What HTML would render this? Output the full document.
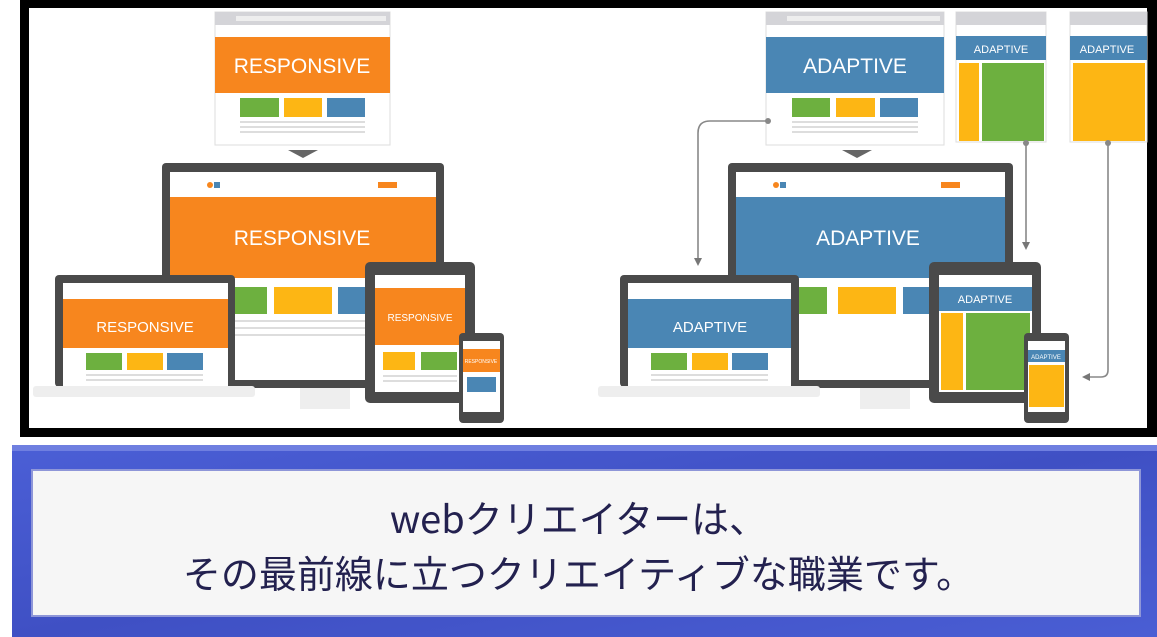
<!DOCTYPE html>
<html><head><meta charset="utf-8"><style>
html,body{margin:0;padding:0;background:#fff;}
body{width:1157px;height:637px;position:relative;overflow:hidden;}
.txt{position:absolute;left:0;width:1157px;text-align:center;color:#23214f;font-family:"Noto Sans CJK JP","Liberation Sans",sans-serif;font-size:38px;line-height:50px;}
</style></head><body>
<svg width="1157" height="637" style="position:absolute;left:0;top:0" font-family="Liberation Sans, DejaVu Sans, sans-serif">
<defs>
<linearGradient id="bl" x1="0" y1="0" x2="1" y2="1">
<stop offset="0" stop-color="#4b5fd6"/><stop offset="0.5" stop-color="#3f50c4"/><stop offset="1" stop-color="#4a5ed4"/></linearGradient>
<marker id="ah" markerWidth="8" markerHeight="8" refX="4" refY="4" orient="auto" markerUnits="userSpaceOnUse"><path d="M0,0 L8,4 L0,8 Z" fill="#777"/></marker>
</defs>
<rect x="20" y="0" width="1137" height="437" fill="#000"/>
<rect x="29" y="8" width="1118" height="420" fill="#fff"/>
<rect x="12" y="445" width="1145" height="192" fill="url(#bl)"/>
<rect x="12" y="445" width="1145" height="6" fill="#6f7fe0"/>
<rect x="32" y="470" width="1108" height="146" fill="#f6f6f6" stroke="#8e96d8" stroke-width="2"/>

<rect x="215" y="12" width="175" height="133" fill="#fff" stroke="#ddd"/>
<rect x="215" y="12" width="175" height="13" fill="#d4d4d8"/>
<rect x="236" y="16" width="150" height="5" fill="#eee"/>
<rect x="215" y="37" width="175" height="56" fill="#f7861e"/>
<text x="302" y="73" font-size="21" fill="#fff" text-anchor="middle">RESPONSIVE</text>
<rect x="240" y="98" width="39" height="19" fill="#6db03f"/><rect x="284" y="98" width="38" height="19" fill="#fdb614"/><rect x="327" y="98" width="38" height="19" fill="#4a86b4"/>
<g fill="#ddd"><rect x="240" y="121" width="125" height="2"/><rect x="240" y="126" width="125" height="2"/><rect x="240" y="131" width="125" height="2"/></g>
<path d="M288,150 L318,150 L303,158 Z" fill="#666"/>
<rect x="300" y="385" width="50" height="24" fill="#eee"/>
<rect x="162" y="163" width="282" height="225" rx="4" fill="#4a4a4a"/>
<rect x="170" y="172" width="266" height="208" fill="#fff"/>
<rect x="170" y="197" width="266" height="81" fill="#f7861e"/>
<text x="302" y="245" font-size="21" fill="#fff" text-anchor="middle">RESPONSIVE</text>
<circle cx="210" cy="185" r="3" fill="#f7861e"/><rect x="214" y="182" width="6" height="6" fill="#4a86b4"/>
<rect x="378" y="182" width="19" height="6" fill="#f7861e"/>
<rect x="213" y="287" width="54" height="27" fill="#6db03f"/><rect x="274" y="287" width="58" height="27" fill="#fdb614"/><rect x="338" y="287" width="40" height="27" fill="#4a86b4"/>
<g fill="#ddd"><rect x="213" y="320" width="165" height="2"/><rect x="213" y="327" width="165" height="2"/><rect x="213" y="334" width="165" height="2"/></g>
<rect x="55" y="275" width="180" height="112" rx="4" fill="#4a4a4a"/>
<rect x="63" y="283" width="165" height="104" fill="#fff"/>
<rect x="63" y="299" width="165" height="49" fill="#f7861e"/>
<text x="145" y="332" font-size="15" fill="#fff" text-anchor="middle">RESPONSIVE</text>
<rect x="86" y="353" width="36" height="17" fill="#6db03f"/><rect x="127" y="353" width="36" height="17" fill="#fdb614"/><rect x="167" y="353" width="36" height="17" fill="#4a86b4"/>
<g fill="#ddd"><rect x="86" y="374" width="117" height="2"/><rect x="86" y="379" width="117" height="2"/></g>
<rect x="33" y="386" width="222" height="11" rx="3" fill="#eee"/>
<rect x="365" y="262" width="110" height="141" rx="5" fill="#4a4a4a"/>
<rect x="375" y="275" width="90" height="117" fill="#fff"/>
<rect x="375" y="288" width="90" height="57" fill="#f7861e"/>
<text x="420" y="321" font-size="10" fill="#fff" text-anchor="middle">RESPONSIVE</text>
<rect x="383" y="352" width="32" height="18" fill="#fdb614"/><rect x="421" y="352" width="36" height="18" fill="#6db03f"/>
<g fill="#ddd"><rect x="383" y="375" width="74" height="2"/><rect x="383" y="380" width="74" height="2"/></g>
<rect x="459" y="333" width="45" height="90" rx="4" fill="#4a4a4a"/>
<rect x="463" y="341" width="37" height="71" fill="#fff"/>
<rect x="463" y="349" width="37" height="23" fill="#f7861e"/>
<text x="481" y="363" font-size="5" fill="#fff" text-anchor="middle">RESPONSIVE</text>
<rect x="467" y="377" width="29" height="15" fill="#4a86b4"/>

<rect x="766" y="12" width="178" height="133" fill="#fff" stroke="#ddd"/>
<rect x="766" y="12" width="178" height="13" fill="#d4d4d8"/>
<rect x="787" y="16" width="153" height="5" fill="#eee"/>
<rect x="766" y="37" width="178" height="56" fill="#4a86b4"/>
<text x="855" y="73" font-size="21" fill="#fff" text-anchor="middle">ADAPTIVE</text>
<rect x="792" y="98" width="38" height="19" fill="#6db03f"/><rect x="836" y="98" width="39" height="19" fill="#fdb614"/><rect x="880" y="98" width="38" height="19" fill="#4a86b4"/>
<g fill="#ddd"><rect x="792" y="121" width="126" height="2"/><rect x="792" y="126" width="126" height="2"/><rect x="792" y="131" width="126" height="2"/></g>
<path d="M842,150 L872,150 L857,158 Z" fill="#666"/>
<rect x="956" y="12" width="90" height="130" fill="#fff" stroke="#ddd"/>
<rect x="956" y="12" width="90" height="13" fill="#d4d4d8"/>
<rect x="956" y="36" width="90" height="24" fill="#4a86b4"/>
<text x="1001" y="53" font-size="11" fill="#fff" text-anchor="middle">ADAPTIVE</text>
<rect x="959" y="63" width="20" height="78" fill="#fdb614"/><rect x="982" y="63" width="62" height="78" fill="#6db03f"/>
<rect x="1070" y="12" width="77" height="130" fill="#fff" stroke="#ddd"/>
<rect x="1070" y="12" width="77" height="13" fill="#d4d4d8"/>
<rect x="1070" y="36" width="77" height="24" fill="#4a86b4"/>
<text x="1107" y="53" font-size="11" fill="#fff" text-anchor="middle">ADAPTIVE</text>
<rect x="1073" y="63" width="72" height="78" fill="#fdb614"/>
<g stroke="#888" stroke-width="1.6" fill="none">
<path d="M768,121 L710,121 Q698,121 698,133 L698,262" marker-end="url(#ah)"/>
<path d="M1026,143 L1026,246" marker-end="url(#ah)"/>
<path d="M1108,143 L1108,370 Q1108,377 1101,377 L1086,377" marker-end="url(#ah)"/>
</g>
<circle cx="768" cy="121" r="3" fill="#888"/><circle cx="1026" cy="143" r="3" fill="#888"/><circle cx="1108" cy="143" r="3" fill="#888"/>
<rect x="860" y="385" width="50" height="24" fill="#eee"/>
<rect x="728" y="163" width="285" height="225" rx="4" fill="#4a4a4a"/>
<rect x="736" y="172" width="269" height="208" fill="#fff"/>
<rect x="736" y="197" width="269" height="81" fill="#4a86b4"/>
<text x="868" y="245" font-size="21" fill="#fff" text-anchor="middle">ADAPTIVE</text>
<circle cx="776" cy="185" r="3" fill="#f7861e"/><rect x="780" y="182" width="6" height="6" fill="#4a86b4"/>
<rect x="941" y="182" width="19" height="6" fill="#f7861e"/>
<rect x="780" y="287" width="47" height="27" fill="#6db03f"/><rect x="838" y="287" width="58" height="27" fill="#fdb614"/><rect x="903" y="287" width="30" height="27" fill="#4a86b4"/>
<rect x="620" y="275" width="179" height="112" rx="4" fill="#4a4a4a"/>
<rect x="628" y="283" width="163" height="104" fill="#fff"/>
<rect x="628" y="299" width="163" height="49" fill="#4a86b4"/>
<text x="710" y="332" font-size="15" fill="#fff" text-anchor="middle">ADAPTIVE</text>
<rect x="651" y="353" width="36" height="17" fill="#6db03f"/><rect x="692" y="353" width="36" height="17" fill="#fdb614"/><rect x="732" y="353" width="36" height="17" fill="#4a86b4"/>
<g fill="#ddd"><rect x="651" y="374" width="117" height="2"/><rect x="651" y="379" width="117" height="2"/></g>
<rect x="598" y="386" width="222" height="11" rx="3" fill="#eee"/>
<rect x="929" y="262" width="112" height="141" rx="5" fill="#4a4a4a"/>
<rect x="939" y="275" width="93" height="117" fill="#fff"/>
<rect x="939" y="287" width="93" height="24" fill="#4a86b4"/>
<text x="985" y="303" font-size="11" fill="#fff" text-anchor="middle">ADAPTIVE</text>
<rect x="941" y="313" width="22" height="77" fill="#fdb614"/><rect x="966" y="313" width="64" height="77" fill="#6db03f"/>
<rect x="1024" y="333" width="45" height="90" rx="4" fill="#4a4a4a"/>
<rect x="1028" y="341" width="37" height="71" fill="#fff"/>
<rect x="1028" y="350" width="37" height="12" fill="#4a86b4"/>
<text x="1046" y="359" font-size="6" fill="#fff" text-anchor="middle">ADAPTIVE</text>
<rect x="1029" y="365" width="35" height="42" fill="#fdb614"/>
</svg>
<div class="txt" style="top:492px;">webクリエイターは、</div>
<div class="txt" style="top:547px;">その最前線に立つクリエイティブな職業です。</div>
</body></html>
